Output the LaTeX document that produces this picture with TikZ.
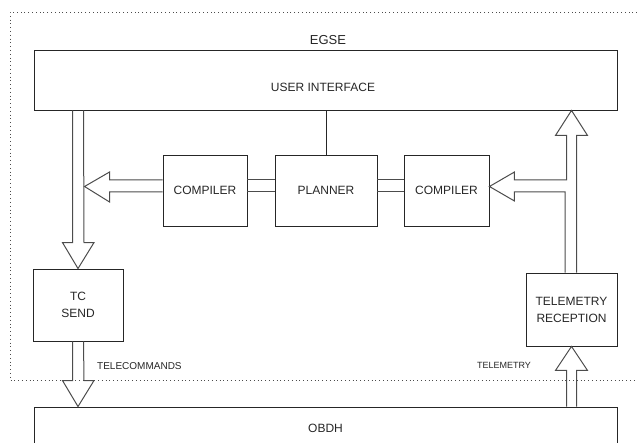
\documentclass[tikz,border=0pt]{standalone}
\usepackage{fontspec}
\setmainfont{Liberation Sans}
\usetikzlibrary{calc}
\begin{document}
\begin{tikzpicture}[x=1pt,y=-1pt,
        box/.style={draw=black!85,line width=0.9pt,inner sep=0pt,text=black!85,font=\fontsize{12}{17}\selectfont,align=center},
        hollow/.style={draw=black!70,line width=1pt},
        lbl/.style={text=black!85,font=\fontsize{12}{14}\selectfont,inner sep=0pt},
        small/.style={text=black!85,font=\fontsize{10}{12}\selectfont,inner sep=0pt}]
        \useasboundingbox (0,0) rectangle (637,443);
        \draw[black!70,line width=0.8pt,dash pattern=on 0.8pt off 3pt] (637,12) -- (10,12) -- (10,380) -- (637,380);
        \node[lbl,font=\fontsize{13}{15}\selectfont] (egse) at (328,40) {EGSE};
        \node[box,minimum width=583pt,minimum height=60pt] (ui) at (325.5,80) {};
        \node[lbl] (uitext) at (323,87) {USER INTERFACE};
        \node[box,minimum width=84pt,minimum height=71pt] (compl) at (205,190.5) {COMPILER};
        \node[box,minimum width=102pt,minimum height=71pt] (planner) at (326,190.5) {PLANNER};
        \node[box,minimum width=85pt,minimum height=71pt] (compr) at (446.5,190.5) {COMPILER};
        \node[box,minimum width=90pt,minimum height=72pt] (tcsend) at (78,305) {TC\\SEND};
        \node[box,minimum width=91pt,minimum height=73pt] (tmrec) at (571.5,309.5) {TELEMETRY\\RECEPTION};
        \node[box,minimum width=583pt,minimum height=42pt] (obdh) at (325.5,428) {OBDH};
        \node[small,anchor=west] (tclbl) at (97,366) {TELECOMMANDS};
        \node[small,font=\fontsize{9}{11}\selectfont] (tmlbl) at (504,365) {TELEMETRY};
        \draw[box] (ui.south -| planner.north) -- (planner.north);
        \draw[hollow] ($(compl.east)+(0,-10.5)$) -- ($(compl.east -| planner.west)+(0,-10.5)$);
        \draw[hollow] ($(compl.east)+(0,1.5)$) -- ($(compl.east -| planner.west)+(0,1.5)$);
        \draw[hollow] ($(planner.east)+(0,-10.5)$) -- ($(planner.east -| compr.west)+(0,-10.5)$);
        \draw[hollow] ($(planner.east)+(0,1.5)$) -- ($(planner.east -| compr.west)+(0,1.5)$);
        \draw[hollow] ($(ui.south -| tcsend.north)+(-5.5,0)$) -- ($(tcsend.north)+(-5.5,-26)$) -- ++(-10,0)
            -- (tcsend.north) -- ++(16,-26) -- ++(-10,0) -- ($(ui.south -| tcsend.north)+(5.5,0)$);
        \draw[hollow] ($(tcsend.south)+(-5.5,0)$) -- ($(tcsend.south |- obdh.north)+(-5.5,-26)$) -- ++(-10,0)
            -- (tcsend.south |- obdh.north) -- ++(16,-26) -- ++(-10,0) -- ($(tcsend.south)+(5.5,0)$);
        \draw[hollow] ($(compl.west)+(0,-10.5)$) -- ++(-53,0) -- ++(0,-8)
            -- ($(compl.west)+(-78,-4)$) -- ++(25,15.5) -- ++(0,-10) -- ($(compl.west)+(0,1.5)$);
        \draw[hollow] ($(tmrec.north)+(5,0)$) -- ($(tmrec.north |- ui.south)+(5,25)$) -- ++(11,0)
            -- (tmrec.north |- ui.south) -- ++(-16,25) -- ++(11,0)
            -- ($(tmrec.north |- compr.east)+(-5,-10.5)$) -- ($(compr.east)+(25,-10.5)$) -- ++(0,-8)
            -- ($(compr.east)+(0,-4)$) -- ++(25,14.5) -- ++(0,-9)
            -- ($(tmrec.north |- compr.east)+(-6.5,1.5)$) -- ($(tmrec.north)+(-6.5,0)$);
        \draw[hollow] ($(obdh.north -| tmrec.south)+(-5,0)$) -- ($(tmrec.south)+(-5,24)$) -- ++(-11,0)
            -- (tmrec.south) -- ++(16,24) -- ++(-11,0) -- ($(obdh.north -| tmrec.south)+(5,0)$);
\end{tikzpicture}
\end{document}
